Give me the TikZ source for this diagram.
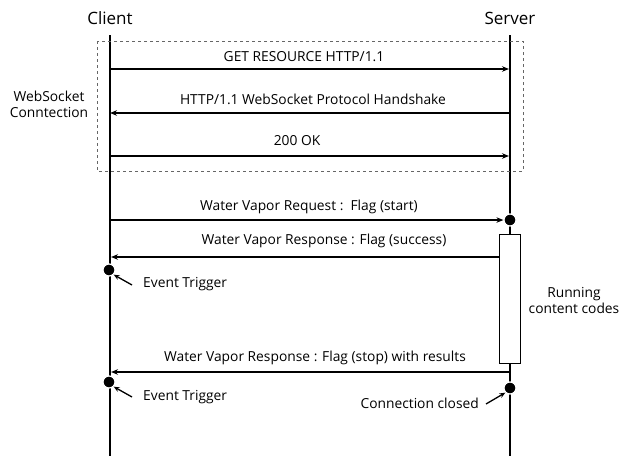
\documentclass[tikz,border=0pt]{standalone}
\usepackage{fontspec}
\setmainfont{Open Sans}
\usetikzlibrary{arrows.meta}
\begin{document}
\begin{tikzpicture}[x=1pt,y=-1pt,
  lifeline/.style={line width=2.2pt},
  msg/.style={line width=1.5pt,-{Stealth[length=7pt,width=5.5pt]}},
  note/.style={line width=1.3pt,-{Stealth[length=6pt,width=5pt]}},
  lbl/.style={font=\fontsize{13.8}{15}\selectfont,inner sep=0pt},
  actor/.style={font=\fontsize{17}{19}\selectfont,inner sep=0pt},
  dot/.style={circle,fill=black,draw=white,line width=1.2pt,minimum size=12pt,inner sep=0pt},
  frame/.style={draw=black!60,dashed,line width=0.8pt}]
\useasboundingbox (0,0) rectangle (632,456);

% participants
\node[actor] (client) at (110,18) {Client};
\node[actor] (server) at (510,18) {Server};
\coordinate (ctop) at (110,35);
\coordinate (cbot) at (110,456);
\coordinate (stop) at (510,35);
\coordinate (sbot) at (510,456);
\draw[lifeline] (ctop) -- (cbot);
\draw[lifeline] (stop) -- (sbot);

% handshake frame
\draw[frame] (97,41) rectangle (523,171);
\node[lbl,align=center] (ws) at (49,104) {WebSocket\\[1pt]Conntection};

% handshake messages
\coordinate (c1) at (110,69);  \coordinate (s1) at (509,69);
\coordinate (c2) at (110,113); \coordinate (s2) at (510,113);
\coordinate (c3) at (110,156); \coordinate (s3) at (509,156);
\draw[msg] (c1) -- (s1);
\node[lbl] (m1) at (304,57) {GET RESOURCE HTTP/1.1};
\draw[msg] (s2) -- (c2);
\node[lbl] (m2) at (313,99) {HTTP/1.1 WebSocket Protocol Handshake};
\draw[msg] (c3) -- (s3);
\node[lbl] (m3) at (297,141) {200 OK};

% activation box
\node[draw,fill=white,line width=1.3pt,minimum width=21pt,minimum height=129pt,inner sep=0pt] (act) at (510,299) {};
\node[lbl,align=center] (run) at (574,300) {Running\\[1pt]content codes};

% water vapor exchange
\node[dot] (sd1) at (510,220) {};
\coordinate (c4) at (110,220);
\draw[msg] (c4) -- (sd1.west);
\node[lbl] (m4) at (309,207) {Water Vapor Request :\ \ Flag (start)};

\coordinate (c5) at (111,257);
\draw[msg] (act.west |- c5) -- (c5);
\node[lbl] (m5) at (324,241) {Water Vapor Response : Flag (success)};

\node[dot] (cd1) at (109,270) {};
\node[lbl,anchor=west] (ev1) at (143,284) {Event Trigger};
\coordinate (e1) at (132,285);
\draw[note] (e1) -- (cd1.south east);

\coordinate (c6) at (111,372);
\coordinate (s6) at (510,372);
\draw[msg] (s6) -- (c6);
\node[lbl] (m6) at (315,358) {Water Vapor Response : Flag (stop) with results};

\node[dot] (cd2) at (109,382) {};
\node[lbl,anchor=west] (ev2) at (143,397) {Event Trigger};
\coordinate (e2) at (132,397);
\draw[note] (e2) -- (cd2.south east);

\node[dot] (sd2) at (510,388) {};
\node[lbl,anchor=east] (cc) at (479,403) {Connection closed};
\coordinate (e3) at (486,404);
\draw[note] (e3) -- (sd2.south west);
\end{tikzpicture}
\end{document}
